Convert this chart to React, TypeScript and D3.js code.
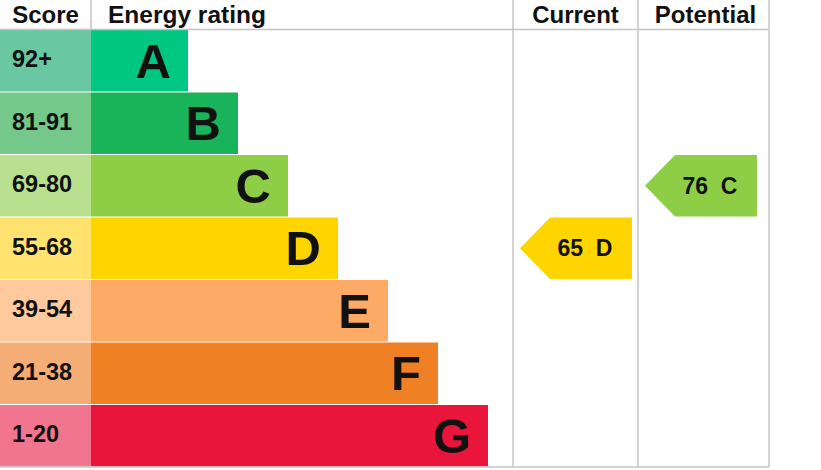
import React from "react";
import * as d3 from "d3";

const bandLetters = ["A", "B", "C", "D", "E", "F", "G"];
const scoreLabels = ["92+", "81-91", "69-80", "55-68", "39-54", "21-38", "1-20"];
const bandColors = ["#00c781", "#19b459", "#8dce46", "#ffd500", "#fcaa65", "#ef8023", "#e9153b"];
const scoreColors = ["#69c8a2", "#74c98a", "#b9e08f", "#ffe36e", "#fdc99d", "#f5ad76", "#f2758f"];
const thresholds = [21, 39, 55, 69, 81, 92];
const currentValue = 65;
const potentialValue = 76;
const headers = ["Score", "Energy rating", "Current", "Potential"];

const W = 821;
const H = 470;
const FONT = "Arial, 'Liberation Sans', Helvetica, sans-serif";

export default function App() {
  const y = d3.scaleBand<string>().domain(bandLetters).range([30, 466.5]).paddingInner(0.016);
  const barEnd = d3.scaleLinear().domain([0, 6]).range([188, 488]);
  const toLetter = d3.scaleThreshold<number, string>().domain(thresholds).range(["G", "F", "E", "D", "C", "B", "A"]);

  const scoreX0 = 0, barX0 = 91, curX0 = 513, potX0 = 638, potX1 = 769;
  const gridColor = "#c4c4c4";
  const bw = y.bandwidth();

  const arrow = (value: number, colLeft: number) => {
    const letter = toLetter(value);
    const idx = bandLetters.indexOf(letter);
    const top = y(letter)!;
    const tip = colLeft + 7;
    const depth = 30;
    const right = tip + 112;
    const path = d3.path();
    path.moveTo(tip, top + bw / 2);
    path.lineTo(tip + depth, top);
    path.lineTo(right, top);
    path.lineTo(right, top + bw);
    path.lineTo(tip + depth, top + bw);
    path.closePath();
    return (
      <g key={colLeft}>
        <path d={path.toString()} fill={bandColors[idx]} />
        <text x={tip + 65} y={top + bw / 2 + 8} textAnchor="middle" fontSize={23} fontWeight="bold" fontFamily={FONT} fill="#111" style={{ whiteSpace: "pre" }}>
          {`${value}  ${letter}`}
        </text>
      </g>
    );
  };

  return (
    <svg width={W} height={H} style={{ position: "absolute", left: 0, top: 0, background: "#fff" }}>
      {bandLetters.map((l, i) => {
        const top = y(l)!;
        return (
          <g key={l}>
            <rect x={scoreX0} y={top} width={barX0 - scoreX0} height={bw} fill={scoreColors[i]} />
            <rect x={barX0} y={top} width={barEnd(i) - barX0} height={bw} fill={bandColors[i]} />
            <text x={12} y={top + bw / 2 + 6.5} fontSize={23.5} fontWeight="bold" fontFamily={FONT} fill="#111">
              {scoreLabels[i]}
            </text>
            <text x={barEnd(i) - 17} y={top + bw / 2 + 17} textAnchor="end" fontSize={49} fontWeight="bold" fontFamily={FONT} fill="#111">
              {l}
            </text>
          </g>
        );
      })}
      {/* grid lines */}
      <line x1={0} x2={potX1} y1={29.5} y2={29.5} stroke={gridColor} strokeWidth={1.5} />
      <line x1={0} x2={potX1} y1={467} y2={467} stroke={gridColor} strokeWidth={1.5} />
      <line x1={barX0} x2={barX0} y1={0} y2={29.5} stroke={gridColor} strokeWidth={1.5} />
      {[curX0, potX0, potX1].map((x) => (
        <line key={x} x1={x} x2={x} y1={0} y2={467} stroke={gridColor} strokeWidth={1.5} />
      ))}
      {/* headers */}
      <text x={(scoreX0 + barX0) / 2} y={23} textAnchor="middle" fontSize={24} fontWeight="bold" fontFamily={FONT} fill="#111">{headers[0]}</text>
      <text x={108} y={23} fontSize={24.5} fontWeight="bold" fontFamily={FONT} fill="#111">{headers[1]}</text>
      <text x={(curX0 + potX0) / 2} y={23} textAnchor="middle" fontSize={24} fontWeight="bold" fontFamily={FONT} fill="#111">{headers[2]}</text>
      <text x={(potX0 + potX1) / 2 + 2} y={23} textAnchor="middle" fontSize={24} fontWeight="bold" fontFamily={FONT} fill="#111">{headers[3]}</text>
      {arrow(currentValue, curX0)}
      {arrow(potentialValue, potX0)}
    </svg>
  );
}
